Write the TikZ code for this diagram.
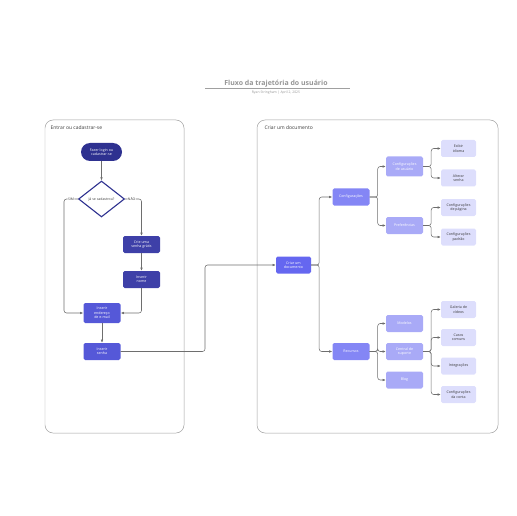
\documentclass[tikz,border=0pt]{standalone}
\usepackage{fontspec}
\setmainfont{Open Sans}
\usetikzlibrary{arrows.meta,positioning,shapes.geometric}
\definecolor{NavyFill}{HTML}{2E3190}
\definecolor{IndigoFill}{HTML}{3E40A8}
\definecolor{BlueFill}{HTML}{5558D8}
\definecolor{RootFill}{HTML}{6567F0}
\definecolor{LevelOne}{HTML}{8486F5}
\definecolor{LevelTwo}{HTML}{A9AAF7}
\definecolor{LevelThree}{HTML}{DDDEFC}
\definecolor{EdgeLine}{HTML}{6E6E6E}
\definecolor{FrameLine}{HTML}{A0A0A0}
\definecolor{TitleText}{HTML}{959595}
\definecolor{DarkText}{HTML}{3A3A3A}
\tikzset{
  stepbox/.style={
    rectangle,
    rounded corners=1.6pt,
    draw=none,
    minimum height=17bp,
    minimum width=37bp,
    inner sep=1pt,
    align=center,
    font=\fontsize{3.6}{4.4}\selectfont,
    text=white,
  },
  leafbox/.style={
    stepbox,
    fill=LevelThree,
    text=DarkText,
    minimum width=35bp,
  },
  frame/.style={
    draw=FrameLine,
    line width=0.5pt,
    rounded corners=8bp,
  },
  flow/.style={
    -{Latex[length=3.2bp,width=2.6bp]},
    line width=0.55pt,
    draw=EdgeLine,
    rounded corners=2.5bp,
  },
  tag/.style={
    fill=white,
    inner sep=0.6pt,
    font=\fontsize{3.4}{4}\selectfont,
    text=DarkText,
  }
}

\begin{document}
\begin{tikzpicture}[x=1bp,y=-1bp]
  \useasboundingbox (0,0) rectangle (516,516);

  % title
  \node[font=\bfseries\fontsize{7}{8}\selectfont, text=TitleText] (title) at (276,84) {Fluxo da trajetória do usuário};
  \draw[FrameLine, line width=0.5pt] (205,88.5) -- (350,88.5);
  \node[font=\fontsize{3.4}{4}\selectfont, text=TitleText] (author) at (276,92.5) {Ryan Stringham \textbar{} April 2, 2025};

  % containers
  \draw[frame] (45,120) rectangle (184,433);
  \node[anchor=west, font=\fontsize{5}{6}\selectfont, text=DarkText] (leftlabel) at (47,128) {Entrar ou cadastrar-se};
  \draw[frame] (257,120) rectangle (498,433);
  \node[anchor=west, font=\fontsize{5}{6}\selectfont, text=DarkText] (rightlabel) at (261,128) {Criar um documento};

  % left flow
  \node[stepbox, fill=NavyFill, rounded corners=9bp, minimum width=41bp, minimum height=18bp] (login) at (101.5,152) {Fazer login ou\\cadastrar-se};
  \node[diamond, draw=NavyFill, line width=1.1pt, fill=white, minimum width=46bp, minimum height=36bp, inner sep=0pt, aspect=1.3,
        font=\fontsize{3.5}{4}\selectfont, text=DarkText] (cadastro) at (101.5,199) {Já se cadastrou?};
  \node[stepbox, fill=IndigoFill] (senhagratis) at (141.5,244.5) {Crie uma\\senha grátis};
  \node[stepbox, fill=IndigoFill] (nome) at (141.5,279.5) {Inserir\\nome};
  \node[stepbox, fill=BlueFill, minimum height=20bp] (email) at (102,313) {Inserir\\endereço\\de e-mail};
  \node[stepbox, fill=BlueFill] (senha) at (102,351.5) {Inserir\\senha};

  \draw[flow] (login) -- (cadastro);
  \draw[flow] (cadastro.west) -- (64,199) |- (email.west) node[tag, pos=0.0, xshift=7bp] {SIM};
  \draw[flow] (cadastro.east) -| (senhagratis.north) node[tag, pos=0.2] {NÃO};
  \draw[flow] (senhagratis) -- (nome);
  \draw[flow] (nome.south) |- (email.east);
  \draw[flow] (email) -- (senha);

  % right flow
  \node[stepbox, fill=RootFill, minimum width=35bp] (documento) at (293.5,265) {Criar um\\documento};
  \node[stepbox, fill=LevelOne] (config) at (351,197) {Configurações};
  \node[stepbox, fill=LevelOne] (recursos) at (351,351.5) {Recursos};
  \node[stepbox, fill=LevelTwo, minimum height=20bp] (usuario) at (404.5,166.5) {Configurações\\de usuário};
  \node[stepbox, fill=LevelTwo] (preferencias) at (404.5,225.5) {Preferências};
  \node[stepbox, fill=LevelTwo] (modelos) at (404.5,323.5) {Modelos};
  \node[stepbox, fill=LevelTwo] (suporte) at (404.5,351.5) {Central de\\suporte};
  \node[stepbox, fill=LevelTwo] (blog) at (404.5,380) {Blog};
  \node[leafbox] (idioma) at (458.5,148.5) {Exibir\\idioma};
  \node[leafbox] (alterar) at (458.5,178) {Alterar\\senha};
  \node[leafbox] (pagina) at (458.5,207.5) {Configurações\\de página};
  \node[leafbox] (padrao) at (458.5,237) {Configurações\\padrão};
  \node[leafbox] (videos) at (458.5,309.5) {Galeria de\\vídeos};
  \node[leafbox] (casos) at (458.5,337.5) {Casos\\comuns};
  \node[leafbox] (integracoes) at (458.5,366) {Integrações};
  \node[leafbox] (conta) at (458.5,394.5) {Configurações\\da conta};

  \draw[flow] (senha.east) -- (205,351.5) |- (documento.west);
  \foreach \parent/\child in {documento/config, documento/recursos,
      config/usuario, config/preferencias,
      recursos/modelos, recursos/suporte, recursos/blog,
      usuario/idioma, usuario/alterar,
      preferencias/pagina, preferencias/padrao,
      suporte/videos, suporte/casos, suporte/integracoes, suporte/conta}
    \draw[flow] (\parent.east) -- ++(8bp,0) |- (\child.west);
\end{tikzpicture}
\end{document}
